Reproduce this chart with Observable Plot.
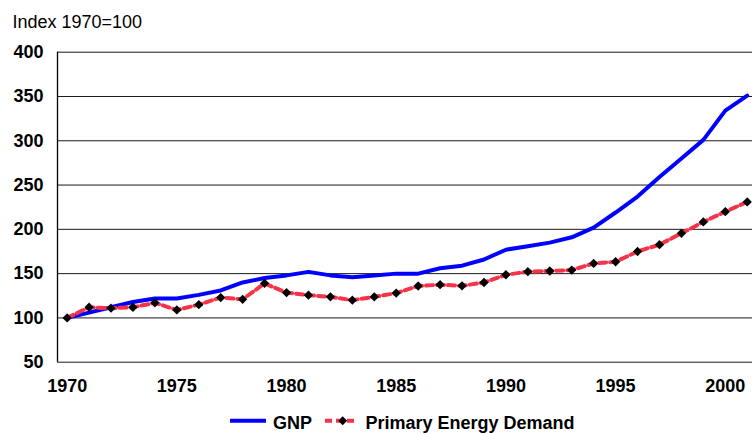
<!DOCTYPE html>
<html>
<head>
<meta charset="utf-8">
<script src="https://cdn.jsdelivr.net/npm/d3@7"></script>
<script src="https://cdn.jsdelivr.net/npm/@observablehq/plot@0.6"></script>
<style>
  html, body { margin: 0; padding: 0; background: #fff; }
  body { width: 752px; height: 434px; overflow: hidden; font-family: "Liberation Sans", Arial, sans-serif; }
  #wrap { position: relative; width: 752px; height: 434px; }
  #chart { position: absolute; left: 0; top: 0; }
  .txt { position: absolute; font-size: 18px; line-height: 18px; white-space: nowrap; color: #000; }
  .bold { font-weight: bold; }
  .sw { position: absolute; }
</style>
</head>
<body>
<div id="wrap">
  <div id="chart"></div>
  <div class="txt" style="left:12.5px; top:12.8px;">Index 1970=100</div>
  <svg class="sw" style="left:226px; top:412px;" width="44" height="18">
    <line x1="4" x2="40" y1="8.7" y2="8.7" stroke="#0000FF" stroke-width="4"></line>
  </svg>
  <div class="txt bold" style="left:273px; top:414.3px;">GNP</div>
  <svg class="sw" style="left:320px; top:412px;" width="44" height="18">
    <line x1="5" x2="38" y1="8.7" y2="8.7" stroke="#F5334A" stroke-width="4" stroke-dasharray="7,4"></line>
    <path d="M22.7,4.2 L27.2,8.7 L22.7,13.2 L18.2,8.7 Z" fill="#000"></path>
  </svg>
  <div class="txt bold" style="left:365.5px; top:414.3px;">Primary Energy Demand</div>
</div>
<script>
const years = d3.range(1970, 2002);
const gnp = [100, 106, 112, 118, 122, 122, 126, 131, 140, 145, 148, 152, 148, 146, 148, 150,
             150, 156, 159, 166, 177, 181, 185, 191, 202, 219, 237, 259, 280, 301, 334, 351];
const energy = [100, 112, 111, 112, 117, 109, 115, 123, 121, 139, 128.5, 125.7, 123.8, 120, 123.8, 128,
                136, 137.5, 136.2, 140, 148.7, 152.2, 153, 154, 161.5, 163.4, 175, 182.7, 195.5, 208.4, 220, 231];
const yTicks = [50, 100, 150, 200, 250, 300, 350, 400];
const xTicks = [1970, 1975, 1980, 1985, 1990, 1995, 2000];
const xDomain = [1969.56, 2001.24];

const dataG = years.map((y, i) => ({year: y, value: gnp[i]}));
const dataE = years.map((y, i) => ({year: y, value: energy[i]}));

const chart = Plot.plot({
  width: 752,
  height: 434,
  marginLeft: 57,
  marginRight: 0,
  marginTop: 51.7,
  marginBottom: 72.3,
  style: {fontFamily: "'Liberation Sans', Arial, sans-serif", fontSize: "18px", fontWeight: "bold", background: "transparent", overflow: "visible"},
  x: {domain: xDomain, label: null},
  y: {domain: [50, 400], label: null},
  marks: [
    Plot.ruleY(yTicks, {stroke: "#1a1a1a", strokeWidth: 1}),
    Plot.ruleX([xDomain[0]], {stroke: "#000", strokeWidth: 1.3}),
    Plot.axisY(yTicks, {tickSize: 0, tickPadding: 14, fontWeight: "bold", fontSize: 18, tickFormat: d => String(d), label: null}),
    Plot.axisX(xTicks, {tickSize: 0, tickPadding: 17, fontWeight: "bold", fontSize: 18, tickFormat: d => String(d), label: null}),
    Plot.line(dataG, {x: "year", y: "value", stroke: "#0000FF", strokeWidth: 4, strokeLinejoin: "round", strokeLinecap: "round"}),
    Plot.line(dataE, {x: "year", y: "value", stroke: "#F5334A", strokeWidth: 4, strokeDasharray: "7,4"}),
    Plot.dot(dataE, {x: "year", y: "value", symbol: "diamond2", r: 4.2, fill: "#000", stroke: "none"})
  ]
});
document.getElementById("chart").appendChild(chart);
</script>
</body>
</html>
